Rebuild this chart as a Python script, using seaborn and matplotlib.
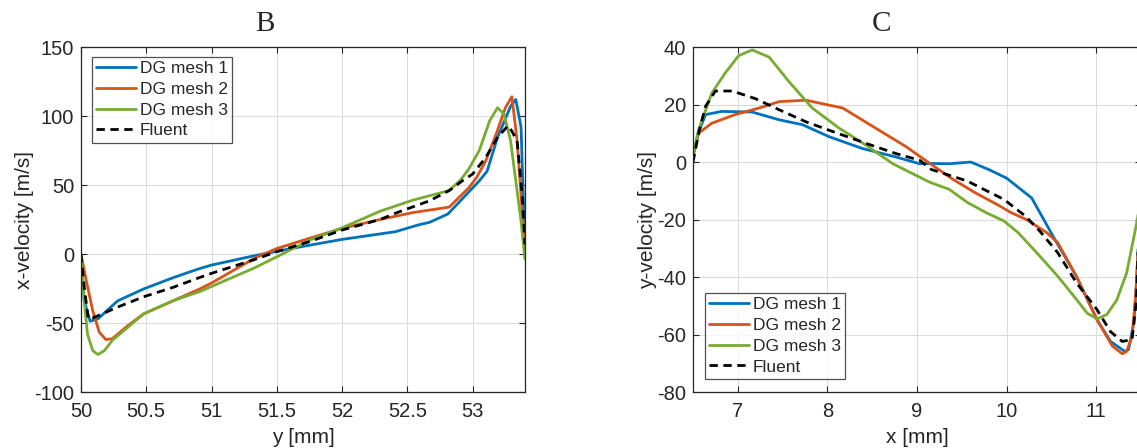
import numpy as np
import pandas as pd
import matplotlib
matplotlib.use("Agg")
import matplotlib.pyplot as plt
import seaborn as sns

sns.set_theme(style="ticks")
plt.rcParams['font.family'] = ['Liberation Sans', 'DejaVu Sans']
plt.rcParams['axes.unicode_minus'] = False

# ---- panel B: x-velocity along y ----
b_mesh1_x = [50.0, 50.025, 50.07, 50.13, 50.28, 50.48, 50.71, 50.91, 51.0, 51.33, 51.61, 52.0, 52.41,
             52.58, 52.67, 52.81, 53.0, 53.05, 53.11, 53.19, 53.29, 53.33, 53.37, 53.4]
b_mesh1_v = [0, -33.7, -48.7, -47, -34, -25.3, -17, -10.5, -8, -1.2, 4, 10.6, 16.2,
             21, 23, 29, 48, 53, 60, 84.5, 107, 112, 92, 3]

b_mesh2_x = [50.0, 50.046, 50.09, 50.14, 50.19, 50.24, 50.36, 50.48, 50.71, 50.91, 51.0, 51.33, 51.5,
             51.75, 52.0, 52.29, 52.54, 52.82, 52.97, 53.03, 53.1, 53.18, 53.25, 53.3, 53.34, 53.4]
b_mesh2_v = [0, -21.7, -41, -56.6, -62, -61.4, -51.8, -43.4, -33.7, -25.3, -21, -3, 4,
             11.4, 18.6, 25, 30, 34, 48, 55.5, 67.6, 87, 106, 114, 82, 3.6]

b_mesh3_x = [50.0, 50.02, 50.05, 50.09, 50.13, 50.18, 50.24, 50.36, 50.48, 50.71, 50.91, 51.0, 51.33,
             51.5, 51.75, 52.0, 52.29, 52.54, 52.82, 52.91, 52.97, 53.05, 53.13, 53.19, 53.24, 53.29,
             53.33, 53.37, 53.4]
b_mesh3_v = [-1.2, -29, -58, -70, -72.8, -70, -62.6, -53, -43.4, -33.7, -27.2, -23.5, -10,
             -2, 10, 19, 31, 39, 46, 54, 61.6, 75, 96.6, 106, 101.4, 82,
             53, 24, -3.6]

b_fluent_x = [50.0, 50.025, 50.056, 50.1, 50.28, 50.48, 50.71, 50.91, 51.0, 51.33, 51.5, 51.75, 52.0,
              52.29, 52.42, 52.67, 52.82, 52.92, 53.0, 53.1, 53.19, 53.27, 53.3, 53.34, 53.38, 53.4]
b_fluent_v = [0, -24, -47, -46, -38.5, -31, -24, -17, -14, -4, 1.7, 9, 17.4,
              25, 30, 38.6, 46, 53, 58, 70, 84.5, 93, 89, 82, 41, 7]

# ---- panel C: y-velocity along x ----
c_mesh1_x = [6.5, 6.57, 6.64, 6.82, 7.16, 7.46, 7.72, 8.02, 8.39, 8.76, 9.03, 9.16, 9.36, 9.6,
             9.8, 10.0, 10.28, 10.54, 10.78, 11.01, 11.16, 11.32, 11.36, 11.42, 11.45, 11.47, 11.5]
c_mesh1_v = [2.4, 11, 16.5, 17.6, 17.4, 14.7, 13, 8.8, 4.7, 1.8, -0.6, -0.5, -0.6, 0,
             -2.6, -5.6, -12.5, -27, -39.8, -54.9, -62.4, -65.9, -65.3, -56, -42, -28, 0]

c_mesh2_x = [6.5, 6.56, 6.71, 6.97, 7.24, 7.46, 7.76, 8.17, 8.58, 8.88, 9.12, 9.4, 9.65, 9.89,
             10.05, 10.22, 10.45, 10.57, 10.78, 11.01, 11.18, 11.29, 11.34, 11.4, 11.44, 11.47, 11.5]
c_mesh2_v = [1.8, 10, 13.5, 16.5, 18.8, 21, 21.5, 18.8, 11, 5.3, 0, -6, -10.7, -14.7,
             -17.6, -20, -24.6, -28, -39.8, -54.9, -64, -66.7, -65.9, -60.7, -46.8, -30, 0]

c_mesh3_x = [6.5, 6.56, 6.71, 6.86, 7.01, 7.16, 7.35, 7.57, 7.83, 8.13, 8.43, 8.73, 9.14, 9.36,
             9.56, 9.77, 9.97, 10.13, 10.37, 10.57, 10.78, 10.9, 11.01, 11.12, 11.23, 11.34, 11.46, 11.5]
c_mesh3_v = [2.4, 11, 24, 31, 37, 39, 36.5, 28, 18.8, 11.8, 5.9, -0.6, -7, -9.5,
             -14, -17.6, -20.5, -24.6, -32.7, -39.7, -47.8, -52.6, -54.6, -53, -48, -38.6, -20, -10]

c_fluent_x = [6.5, 6.57, 6.64, 6.75, 6.94, 7.2, 7.46, 7.76, 8.06, 8.43, 8.76, 9.03, 9.16, 9.56,
              9.97, 10.21, 10.37, 10.57, 10.78, 11.01, 11.16, 11.29, 11.4, 11.45, 11.47, 11.5]
c_fluent_v = [0, 11, 19.4, 24.7, 24.7, 22, 18.2, 14, 10.6, 6.5, 3, 0.6, -2.6, -6.6,
              -13, -18.8, -24, -31.5, -42, -51.4, -59, -62.4, -61.8, -48, -28, 0]

labels = ["DG mesh 1", "DG mesh 2", "DG mesh 3", "Fluent"]
colors = ["#0072BD", "#D95319", "#77AC30", "black"]


def make_df(series):
    frames = []
    for name, (xs, vs) in zip(labels, series):
        frames.append(pd.DataFrame({"pos": xs, "vel": vs, "series": name}))
    return pd.concat(frames, ignore_index=True)


df_b = make_df([(b_mesh1_x, b_mesh1_v), (b_mesh2_x, b_mesh2_v),
                (b_mesh3_x, b_mesh3_v), (b_fluent_x, b_fluent_v)])
df_c = make_df([(c_mesh1_x, c_mesh1_v), (c_mesh2_x, c_mesh2_v),
                (c_mesh3_x, c_mesh3_v), (c_fluent_x, c_fluent_v)])

fig = plt.figure(figsize=(11.37, 4.48), dpi=100)
ax_b = fig.add_axes([0.0712, 0.125, 0.3905, 0.770])
ax_c = fig.add_axes([0.6095, 0.125, 0.394, 0.770])


def draw(ax, df):
    sns.lineplot(data=df, x="pos", y="vel", hue="series", style="series",
                 palette=dict(zip(labels, colors)),
                 dashes={"DG mesh 1": "", "DG mesh 2": "", "DG mesh 3": "", "Fluent": (3, 2)},
                 sort=False, estimator=None, linewidth=2.0, ax=ax)
    ax.grid(True, color="#dcdcdc", linewidth=0.8)
    ax.tick_params(direction="in", top=True, right=True, labelsize=14.5,
                   length=4, width=0.8, colors="#262626", labelcolor="#262626")
    ax.tick_params(axis="x", pad=7)
    ax.tick_params(axis="y", pad=5)
    for sp in ax.spines.values():
        sp.set_color("#262626")
        sp.set_linewidth(0.9)


draw(ax_b, df_b)
ax_b.set_xlim(50, 53.4)
ax_b.set_ylim(-100, 150)
ax_b.set_xticks(np.arange(50, 53.01, 0.5))
ax_b.set_xticklabels(["50", "50.5", "51", "51.5", "52", "52.5", "53"])
ax_b.set_yticks(np.arange(-100, 151, 50))
ax_b.set_xlabel("y [mm]", fontsize=15, labelpad=5, color="#262626")
ax_b.set_ylabel("x-velocity [m/s]", fontsize=15, labelpad=0, color="#262626")

draw(ax_c, df_c)
ax_c.set_xlim(6.5, 11.5)
ax_c.set_ylim(-80, 40)
ax_c.set_xticks(np.arange(7, 12, 1))
ax_c.set_yticks(np.arange(-80, 41, 20))
ax_c.set_xlabel("x [mm]", fontsize=15, labelpad=5, color="#262626")
ax_c.set_ylabel("y-velocity [m/s]", fontsize=15, labelpad=0, color="#262626")

leg_kw = dict(fontsize=12.5, frameon=True, fancybox=False, edgecolor="#262626",
              handlelength=2.3, handletextpad=0.2, labelspacing=0.32,
              borderpad=0.25, borderaxespad=0)
ax_b.legend(loc="upper left", bbox_to_anchor=(0.025, 0.972), **leg_kw).get_frame().set_linewidth(0.9)
ax_c.legend(loc="lower left", bbox_to_anchor=(0.027, 0.038), **leg_kw).get_frame().set_linewidth(0.9)

fig.text(265 / 1137, 1 - 24 / 448, "B", fontsize=21, family="Liberation Serif", ha="center", va="center")
fig.text(882 / 1137, 1 - 24 / 448, "C", fontsize=21, family="Liberation Serif", ha="center", va="center")

fig.savefig("out.png", dpi=100)
